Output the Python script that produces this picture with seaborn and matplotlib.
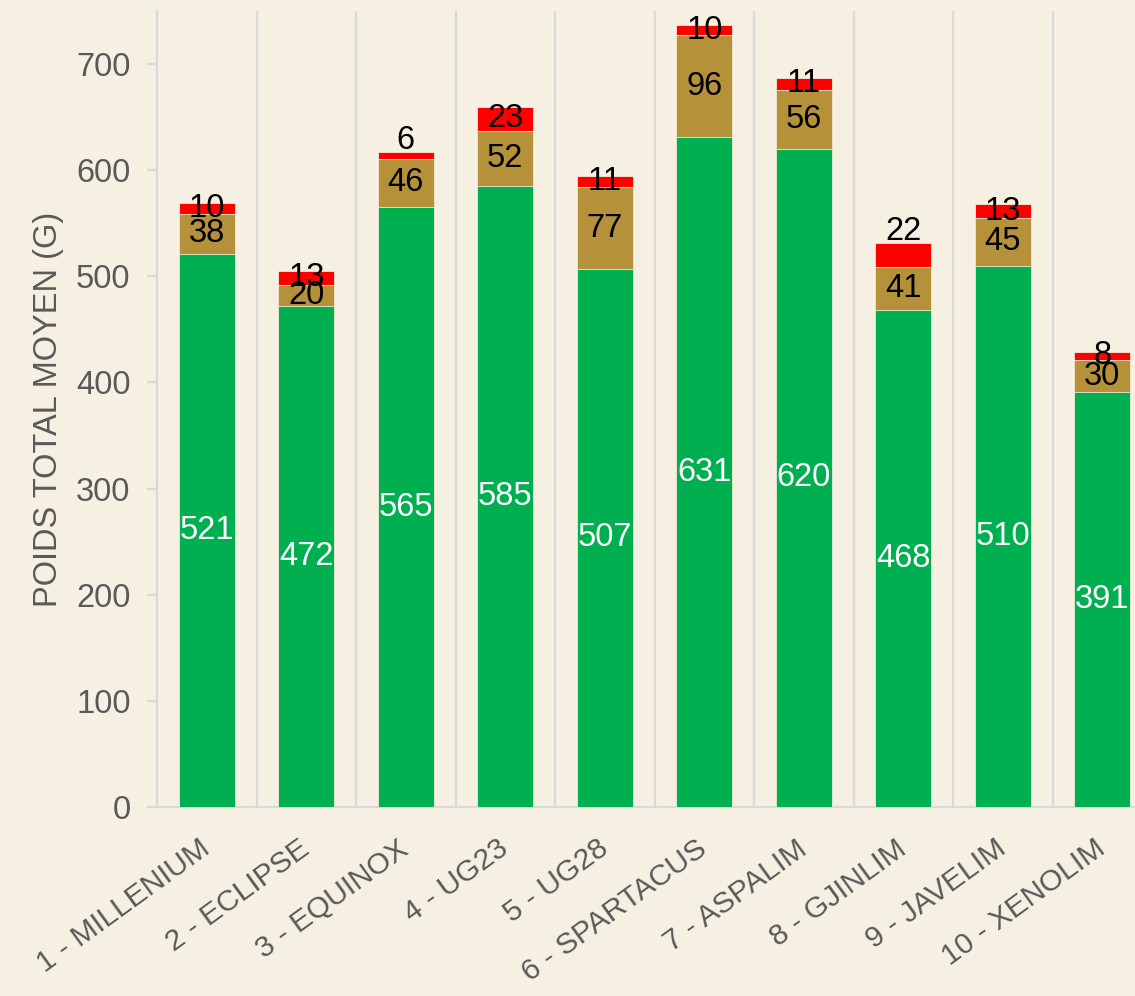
import matplotlib.pyplot as plt
import seaborn as sns
import numpy as np
import pandas as pd

sns.set_theme(style="white")
plt.rcParams['font.family'] = ['Liberation Sans', 'DejaVu Sans']

varieties = ["1 - MILLENIUM", "2 - ECLIPSE", "3 - EQUINOX", "4 - UG23", "5 - UG28",
             "6 - SPARTACUS", "7 - ASPALIM", "8 - GJINLIM", "9 - JAVELIM", "10 - XENOLIM"]
green_vals = [521, 472, 565, 585, 507, 631, 620, 468, 510, 391]
brown_vals = [38, 20, 46, 52, 77, 96, 56, 41, 45, 30]
red_vals = [10, 13, 6, 23, 11, 10, 11, 22, 13, 8]
# red labels that sit above the bar instead of inside
red_above = ["3 - EQUINOX", "8 - GJINLIM"]

BG = "#F6F0E3"
GREEN = "#00B050"
BROWN = "#B5913A"
RED = "#FF0000"
GRID = "#D9D9D9"
TXT = "#595959"

df = pd.DataFrame({"variety": varieties, "green": green_vals,
                   "brown": brown_vals, "red": red_vals})
df["gb"] = df.green + df.brown
df["total"] = df.gb + df.red

fig = plt.figure(figsize=(11.35, 9.96), dpi=100, facecolor=BG)
ax = fig.add_axes([157 / 1135, 1 - 807 / 996, 1 - 157 / 1135, (807 - 11) / 996])
ax.set_facecolor(BG)

# stacked bars drawn as overlapping cumulative totals
edge = dict(edgecolor="#F3E9D6", linewidth=0.6)
sns.barplot(data=df, x="variety", y="total", color=RED, width=0.56,
            saturation=1, ax=ax, zorder=3, **edge)
sns.barplot(data=df, x="variety", y="gb", color=BROWN, width=0.56,
            saturation=1, ax=ax, zorder=3, **edge)
sns.barplot(data=df, x="variety", y="green", color=GREEN, width=0.56,
            saturation=1, ax=ax, zorder=3, **edge)

fs = 23.5
for i, row in df.iterrows():
    ax.text(i, row.green / 2, f"{row.green}", ha="center", va="center",
            color="white", fontsize=fs, zorder=5)
    ax.text(i, row.green + row.brown / 2, f"{row.brown}", ha="center", va="center",
            color="black", fontsize=fs, zorder=5)
    if row.variety in red_above:
        ax.text(i, row.total + 3, f"{row.red}", ha="center", va="baseline",
                color="black", fontsize=fs, zorder=5)
    else:
        ax.text(i, row.gb + row.red / 2, f"{row.red}", ha="center", va="center",
                color="black", fontsize=fs, zorder=5)

ax.set_xlim(-0.5, -0.5 + (1135 - 157) / 99.5)
ax.set_ylim(0, 750)
ax.set_yticks(np.arange(0, 701, 100))

# vertical separators between categories
ax.set_xticks(np.arange(0.5, 9.0, 1), minor=True)
ax.grid(True, which="minor", axis="x", color=GRID, lw=1.6, zorder=0)
ax.grid(False, which="major")

for s in ["top", "right"]:
    ax.spines[s].set_visible(False)
ax.spines["left"].set_color(GRID)
ax.spines["left"].set_linewidth(1.6)
ax.spines["bottom"].set_color(GRID)
ax.spines["bottom"].set_linewidth(1.6)

ax.tick_params(axis="y", which="major", left=True, length=7, width=1.6, color=GRID,
               labelsize=23.5, labelcolor=TXT, pad=12)
ax.tick_params(axis="x", which="both", bottom=False, length=0, labelsize=21.5,
               labelcolor=TXT, pad=28)
for lbl in ax.get_xticklabels():
    lbl.set_rotation(36)
    lbl.set_ha("right")
    lbl.set_va("center")
    lbl.set_rotation_mode("anchor")

ax.set_xlabel("")
ax.set_ylabel("POIDS TOTAL MOYEN (G)", fontsize=23.5, color=TXT, labelpad=9)

fig.savefig("out.png", dpi=100, facecolor=BG)
